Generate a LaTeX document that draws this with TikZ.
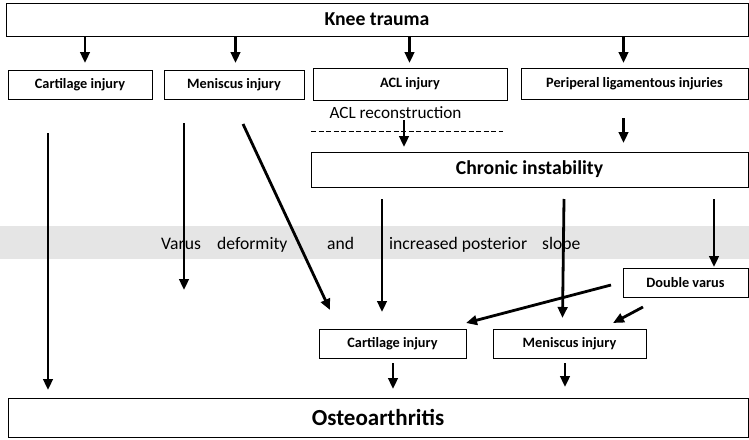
\documentclass[tikz,border=0pt]{standalone}
\usepackage{fontspec}
\setmainfont{Carlito}
\usetikzlibrary{arrows.meta}
\begin{document}
\begin{tikzpicture}[x=1pt,y=-1pt,
  bx/.style={draw=black,line width=0.9pt,inner sep=0pt,font=\bfseries\fontsize{14.3}{16}\selectfont},
  bigbx/.style={bx,font=\bfseries\fontsize{19.7}{22}\selectfont},
  arr/.style={line width=2.8pt,-{Triangle[length=11pt,width=9.5pt]}},
  bandtxt/.style={anchor=base west,inner sep=0pt,font=\fontsize{17.6}{20}\selectfont}]
\useasboundingbox (0,0) rectangle (749,439);
% band
\fill[gray!20] (0,226) rectangle (749,259);
\node[bandtxt] (w1) at (161,249) {Varus};
\node[bandtxt] (w2) at (217,249) {deformity};
\node[bandtxt] (w3) at (327,249) {and};
\node[bandtxt] (w4) at (389,249) {increased posterior};
\node[bandtxt] (w5) at (542,249) {slope};
% boxes
\node[bigbx,minimum width=742pt,minimum height=33pt] (knee) at (377,19.5) {Knee trauma};
\node[bx,minimum width=144pt,minimum height=29pt] (cart1) at (80,84.5) {Cartilage injury};
\node[bx,minimum width=140pt,minimum height=29pt] (men1) at (234,84.5) {Meniscus injury};
\node[bx,minimum width=194pt,minimum height=32pt] (acl) at (410,84) {ACL injury};
\node[bx,minimum width=227pt,minimum height=31pt] (peri) at (634.5,83.5) {Periperal ligamentous injuries};
\node[inner sep=0pt,font=\fontsize{17.2}{19}\selectfont] (recon) at (395.5,113) {ACL reconstruction};
\node[bigbx,minimum width=437pt,minimum height=35pt] (chronic) at (529.5,169.5) {Chronic instability};
\node[bx,minimum width=125pt,minimum height=29pt] (dv) at (685.5,282.5) {Double varus};
\node[bx,minimum width=147pt,minimum height=29pt] (cart2) at (392.5,343.5) {Cartilage injury};
\node[bx,minimum width=153pt,minimum height=29pt] (men2) at (569.5,343.5) {Meniscus injury};
\node[bx,minimum width=740pt,minimum height=39pt,font=\bfseries\fontsize{23}{26}\selectfont] (oa) at (378,417.5) {Osteoarthritis};
% coordinates
\coordinate (k1) at (85,37);   \coordinate (c1) at (85,63);
\coordinate (k2) at (235.5,37);\coordinate (m1) at (235.5,63);
\coordinate (k3) at (409.5,37);\coordinate (l1) at (409.5,63);
\coordinate (k4) at (623.5,37);\coordinate (p1) at (623.5,63);
\coordinate (as) at (404,120); \coordinate (ae) at (404,147);
\coordinate (ps) at (623.5,118); \coordinate (pe) at (623.5,143);
\coordinate (d1) at (311,131.5); \coordinate (d2) at (503,131.5);
\coordinate (c1s) at (48,133); \coordinate (c1e) at (48,390);
\coordinate (m1s) at (184,123); \coordinate (m1e) at (184,290);
\coordinate (m2s) at (243,124); \coordinate (m2e) at (330,310);
\coordinate (ch1s) at (382,199); \coordinate (ch1e) at (382,312);
\coordinate (ch2s) at (564,199); \coordinate (ch2e) at (562.5,318);
\coordinate (ch3s) at (714,199); \coordinate (ch3e) at (714,267);
\coordinate (dv1s) at (611,285); \coordinate (dv1e) at (466,323);
\coordinate (dv2s) at (643,307); \coordinate (dv2e) at (613,323);
\coordinate (cs) at (393,363); \coordinate (ce) at (393,389);
\coordinate (ms) at (565,363); \coordinate (me) at (565,387);
% connectors
\draw[arr] (k1) -- (c1);
\draw[arr] (k2) -- (m1);
\draw[arr] (k3) -- (l1);
\draw[arr] (k4) -- (p1);
\draw[line width=1.8pt,dash pattern=on 5pt off 2.5pt] (d1) -- (d2);
\draw[arr] (as) -- (ae);
\draw[arr] (ps) -- (pe);
\draw[arr] (c1s) -- (c1e);
\draw[arr] (m1s) -- (m1e);
\draw[arr] (m2s) -- (m2e);
\draw[arr] (ch1s) -- (ch1e);
\draw[arr] (ch2s) -- (ch2e);
\draw[arr] (ch3s) -- (ch3e);
\draw[arr] (dv1s) -- (dv1e);
\draw[arr] (dv2s) -- (dv2e);
\draw[arr] (cs) -- (ce);
\draw[arr] (ms) -- (me);
\end{tikzpicture}
\end{document}
